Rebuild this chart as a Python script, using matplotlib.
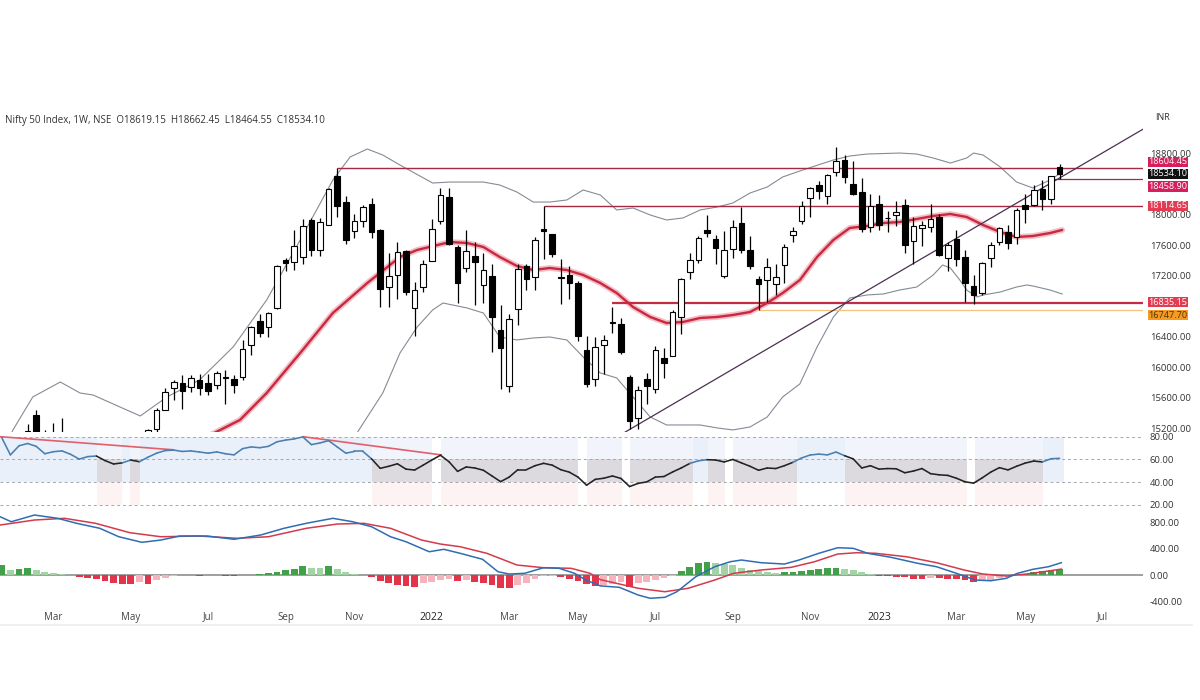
import numpy as np
import pandas as pd
import matplotlib
matplotlib.use('Agg')
import matplotlib.pyplot as plt
from matplotlib.lines import Line2D

plt.rcParams['font.family'] = ['Open Sans', 'DejaVu Sans']

# weekly bars, first bar = week of 2021-01-18
start_week = '2021-01-18'
opens = [14600, 14482, 13758, 15064, 15372, 15075, 14702, 15065, 15048, 14737,
         14628, 14837, 14644, 14516, 14449, 14481, 14928, 14756, 15191, 15437,
         15725, 15791, 15746, 15837, 15794, 15766, 15877, 15840, 15874, 16288,
         16600, 16528, 16775, 17401, 17380, 17443, 17932, 17531, 17867, 18500,
         18168, 17783, 17917, 18140, 17796, 17051, 17209, 17528, 16773, 17046,
         17388, 17913, 18235, 17575, 17301, 17456, 17076, 17192, 16481, 15747,
         16757, 17329, 17181, 17809, 17740, 17183, 17202, 17096, 16227, 15845,
         16290, 16578, 16570, 15877, 15334, 15839, 15710, 16126, 16151, 16662,
         17243, 17402, 17797, 17682, 17188, 17546, 17890, 17541, 17156, 17147,
         17094, 17335, 17737, 17910, 18211, 18386, 18246, 18552, 18719, 18402,
         18288, 17831, 18131, 17952, 17999, 18124, 17649, 17818, 17840, 17965,
         17428, 17680, 17443, 17066, 16977, 17427, 17634, 17767, 17707, 18124,
         18120, 18339, 18201, 18619.15]
highs = [14754, 14491, 15014, 15257, 15432, 15177, 15274, 15336, 15111, 14879,
         14984, 14880, 14697, 14527, 14890, 14756, 14967, 15190, 15469, 15733,
         15835, 15901, 15903, 15915, 15916, 15952, 15962, 15901, 16349, 16543,
         16702, 16722, 17340, 17436, 17793, 17947, 17948, 17948, 18350, 18604.45,
         18242, 18012, 18124, 18210, 17806, 17490, 17639, 17533, 17118, 17400,
         17944, 18350, 18351, 17599, 17794, 17640, 17490, 17351, 16815, 16694,
         17345, 17353, 17703, 18114.65, 17747, 17414, 17322, 17132, 16404, 16400,
         16415, 16794, 16641, 15900, 15750, 15927, 16275, 16248, 16752, 17172,
         17490, 17719, 17992, 17726, 17777, 17925, 18096, 17723, 17188, 17428,
         17348, 17607, 17838, 18175, 18362, 18443, 18529, 18888, 18781, 18697,
         18473, 18265, 18252, 18049, 18183, 18201, 17972, 17917, 18134, 18004,
         17644, 17799, 17529, 17207, 17381, 17639, 17842, 17863, 18089, 18267,
         18389, 18458, 18500, 18662.45]
lows = [14222, 13596, 13661, 14977, 14935, 14467, 14640, 14862, 14350, 14264,
        14617, 14459, 14151, 14273, 14416, 14417, 14591, 14722, 15100, 15437,
        15566, 15450, 15673, 15635, 15632, 15707, 15513, 15661, 15834, 16162,
        16395, 16395, 16764, 17255, 17270, 17354, 17452, 17453, 17864, 17968,
        17613, 17697, 17836, 17688, 16783, 16782, 16891, 16950, 16410, 16988,
        17384, 17880, 17599, 16836, 17244, 16810, 16839, 16203, 15711, 15671,
        16556, 17006, 17005, 17422, 17443, 16825, 16888, 16341, 15735, 15750,
        15904, 16444, 16172, 15183, 15191, 15511, 15661, 15858, 16143, 16438,
        17154, 17359, 17710, 17345, 17167, 17429, 17497, 17292, 16747.70, 16856,
        16950, 17098, 17638, 17877, 17969, 18209, 18133, 18503, 18410, 18255,
        17774, 17775, 17796, 17775, 17853, 17493, 17353, 17584, 17765, 17455,
        17255, 17325, 16850, 16828, 16941, 17313, 17598, 17553, 17612, 17885,
        18116, 18060, 18132, 18464.55]
closes = [14372, 13635, 14924, 15163, 14982, 14529, 15031, 15031, 14744, 14507,
          14867, 14835, 14617, 14341, 14631, 14823, 14677, 15175, 15435, 15670,
          15799, 15683, 15860, 15722, 15690, 15924, 15856, 15763, 16238, 16529,
          16450, 16705, 17324, 17369, 17585, 17853, 17532, 17895, 18339, 18114,
          17672, 17917, 18102, 17765, 17026, 17197, 17512, 16985, 17004, 17354,
          17812, 18256, 17617, 17102, 17516, 17375, 17276, 16658, 16245, 16630,
          17287, 17153, 17670, 17784, 17476, 17172, 17102, 16411, 15782, 16266,
          16352, 16584, 16202, 15294, 15699, 15752, 16220, 16049, 16719, 17158,
          17397, 17698, 17758, 17559, 17539, 17833, 17531, 17327, 17094, 17315,
          17186, 17576, 17787, 18117, 18350, 18308, 18512, 18696, 18497, 18269,
          17806, 18105, 17859, 17956, 18028, 17604, 17854, 17856, 17944, 17465,
          17594, 17413, 17100, 16945, 17360, 17599, 17828, 17624, 18065, 18069,
          18315, 18203, 18499, 18534.10]

# Bollinger bands / 20 SMA (bar index, price)
bbu_k = [0.4, 1.3, 3.6, 6.8, 9.1, 10.6, 16.1, 19.2, 23.0, 26.9, 30.8, 34.7, 38.5, 40.5, 42.5,
         44.3, 46.3, 50.1, 52.1, 56.0, 57.9, 59.9, 61.8, 63.7, 65.7, 67.6, 69.6, 71.5, 73.4,
         75.4, 77.3, 79.2, 81.2, 83.2, 85.0, 87.0, 89.0, 90.8, 92.8, 96.7, 98.6, 100.6, 104.4,
         106.4, 108.3, 110.3, 112.2, 113.0, 114.1, 116.1, 118.0, 119.9, 121.9, 123.3]
bbu_p = [14950, 15177, 15609, 15805, 15661, 15635, 15360, 15609, 15832, 16264, 16880, 17666, 18452,
         18753, 18858, 18779, 18648, 18412, 18425, 18425, 18386, 18294, 18163, 18163, 18190,
         18321, 18255, 18059, 18085, 17993, 17928, 17954, 18059, 18098, 18150, 18281, 18360,
         18491, 18570, 18714, 18766, 18792, 18805, 18792, 18740, 18674, 18740, 18805, 18779,
         18622, 18425, 18347, 18452, 18556]
bbl_k = [41.2, 44.3, 46.3, 48.3, 50.1, 51.3, 54.1, 56.0, 57.9, 59.9, 61.8, 63.7, 65.7, 67.6,
         69.6, 71.5, 73.4, 75.4, 77.3, 79.2, 81.2, 83.2, 85.0, 87.0, 89.0, 90.8, 92.8, 94.8,
         96.7, 98.6, 100.6, 102.5, 104.4, 106.4, 108.3, 109.4, 110.3, 111.4, 112.2, 113.4,
         114.1, 116.1, 118.0, 119.2, 119.9, 121.9, 123.3]
bbl_p = [15120, 15661, 16185, 16526, 16749, 16840, 16775, 16709, 16395, 16356, 16382, 16395,
         16356, 16133, 15923, 15858, 15609, 15347, 15242, 15242, 15242, 15203, 15177, 15216,
         15347, 15609, 15780, 16264, 16657, 16906, 16945, 16958, 17010, 17050, 17207, 17338,
         17299, 17141, 17010, 16919, 16945, 16984, 17050, 17076, 17063, 17010, 16958]
sma_k = [24.4, 27.7, 30.8, 34.7, 38.5, 42.5, 46.3, 48.3, 52.1, 54.1, 56.0, 57.9, 59.9, 61.8,
         63.7, 65.7, 67.6, 69.6, 71.5, 73.4, 75.4, 77.3, 79.2, 81.2, 83.2, 85.0, 87.0, 89.0,
         90.8, 92.8, 94.8, 96.7, 98.6, 100.6, 102.5, 104.4, 106.4, 108.3, 110.3, 112.2, 114.1,
         116.1, 118.0, 119.9, 121.9, 123.3]
sma_p = [15120, 15308, 15661, 16185, 16709, 17102, 17443, 17535, 17639, 17626, 17574, 17443,
         17325, 17272, 17299, 17272, 17207, 17102, 16971, 16788, 16657, 16578, 16591, 16644,
         16657, 16683, 16722, 16840, 16971, 17141, 17443, 17666, 17823, 17849, 17888, 17901,
         17941, 17980, 18006, 17967, 17862, 17770, 17705, 17718, 17757, 17797]

# drawn levels: value, first bar
level_vals = [18604.45, 18458.90, 18114.65, 16835.15, 16747.70]
level_from = [39, 122, 63, 71, 88]
trend_k = [73, 123]
trend_p = [15183, 18478]

# RSI (one value per week)
rsi = [79, 64, 72, 74, 71.5, 65, 66.8, 67.5, 64.5, 60.3,
       62.5, 63, 59, 56, 57, 59.5, 58, 62, 65.5, 67.8,
       68.2, 67, 67.5, 66.5, 65.5, 66.6, 65, 64, 69.5, 71,
       70.3, 71.5, 75.5, 77, 78, 79.8, 73, 74.5, 76.5, 71,
       65.5, 67, 67, 60.5, 52.2, 54, 56.2, 51.5, 50.7, 55,
       59.5, 63.7, 58, 49.5, 53.4, 52.5, 50.5, 45.5, 40.5, 44.5,
       51, 51, 54.5, 56.6, 55, 51, 48.8, 44.5, 37.4, 42.5,
       43.5, 45.5, 43.3, 36.2, 39, 40.3, 44.5, 45, 49, 52.5,
       56.5, 58.8, 59.8, 59.5, 57.8, 60, 57, 54, 50.5, 52.5,
       52, 54.5, 57.5, 61.3, 63.9, 64.7, 64, 66.5, 63.3, 60.5,
       52.5, 54.5, 51.5, 52, 51.8, 48.3, 49.8, 52, 47.5, 46.5,
       46, 43.5, 40.4, 39.2, 43.8, 48.9, 52.8, 50.8, 54, 56.8,
       58.6, 57.8, 60.6, 61]
rsi_div_k = [[-0.2, 19.9], [35.0, 51.1]]
rsi_div_v = [[80, 68.5], [80, 64]]
blue_zones = [(-0.5, 11.07), (13.98, 14.9), (16.07, 43.0), (80.4, 82.1), (92.5, 98.0), (121.1, 123.5)]
gray_zones = [(11.07, 13.98), (14.9, 16.07), (43.0, 50.0), (51.1, 67.0), (68.0, 72.1), (73.0, 80.4),
              (82.1, 84.1), (85.0, 92.5), (98.0, 112.2), (113.2, 121.1)]

# MACD
macd_k = [-0.2, 1.1, 3.8, 6.5, 8.7, 11.4, 13.6, 16.3, 18.5, 20.7, 23.9, 27.0, 30.1, 32.8, 35.4,
          38.5, 40.8, 43.0, 45.2, 47.0, 49.7, 51.4, 53.3, 55.9, 57.7, 59.0, 60.8, 63.0, 64.8,
          66.6, 67.9, 69.6, 71.8, 74.0, 75.4, 77.1, 78.5, 80.7, 82.9, 84.7, 86.0, 88.3, 91.0,
          92.7, 95.0, 97.2, 99.0, 100.7, 103.4, 106.5, 108.7, 111.0, 113.2, 115.0, 116.8,
          118.1, 119.9, 121.7, 123.2]
macd_v = [886, 810, 912, 862, 786, 710, 582, 497, 532, 593, 593, 543, 608, 710, 786, 862, 810,
          734, 582, 506, 354, 391, 330, 239, 50, 15, 26, 111, 102, 26, -76, -165, -187, -304,
          -354, -339, -254, -26, 126, 202, 228, 187, 167, 228, 330, 415, 406, 330, 269, 178,
          126, 26, -76, -87, -50, 26, 87, 126, 187]
signal_k = [-0.2, 3.8, 7.3, 10.9, 14.9, 18.5, 22.9, 27.4, 31.0, 35.4, 39.0, 42.1, 45.2, 48.8,
            51.0, 53.3, 56.4, 59.9, 63.0, 66.2, 68.4, 69.6, 74.0, 77.1, 79.8, 82.9, 85.1, 88.3,
            91.8, 94.5, 97.2, 99.4, 101.6, 105.2, 108.7, 111.9, 114.1, 116.8, 119.5, 123.2]
signal_v = [760, 836, 862, 786, 643, 582, 593, 558, 582, 710, 775, 786, 710, 532, 471, 430, 330,
            152, 111, 102, 26, -70, -202, -254, -202, -76, 26, 76, 117, 202, 319, 339, 330, 278,
            187, 76, 15, -15, 20, 90]
hist = [150, 80, 90, 110, 80, 45, 30, 20, 5, -30,
        -45, -60, -90, -120, -137, -137, -100, -137, -70, -40,
        -15, -5, 5, -8, -5, 5, -10, -15, -5, 5,
        10, 26, 45, 70, 90, 130, 110, 100, 130, 95,
        50, 15, 0, -30, -85, -115, -145, -160, -180, -127,
        -100, -70, -60, -95, -70, -100, -127, -155, -190, -200,
        -150, -120, -60, -20, -15, -26, -55, -90, -137, -167,
        -150, -130, -110, -177, -127, -101, -76, -51, -20, 66,
        117, 178, 205, 190, 175, 150, 110, 80, 60, 40,
        35, 40, 50, 65, 80, 90, 100, 105, 90, 70,
        40, 10, -10, -20, -25, -30, -60, -60, -45, -45,
        -60, -60, -80, -100, -95, -70, -50, -30, -10, 20,
        40, 60, 75, 90]

price_ticks = [15200, 15600, 16000, 16400, 16800, 17200, 17600, 18000, 18400, 18800]
hidden_ticks = [16800, 18400]   # covered by the price tags on the right

# ---------------------------------------------------------------
W, H = 1200, 700
fig = plt.figure(figsize=(12, 7), dpi=100)
fig.patch.set_facecolor('white')


def px_axes(top, bottom, right=1143):
    return fig.add_axes([0, 1 - bottom / H, right / W, (bottom - top) / H])


ax = px_axes(128, 432)
ax_rsi = px_axes(432, 512)
ax_macd = px_axes(512, 606)

n = len(closes)
idx = np.arange(n)
xlim = (-0.21, 132.7)
for a in (ax, ax_rsi, ax_macd):
    for s in a.spines.values():
        s.set_visible(False)
    a.yaxis.tick_right()
    a.tick_params(axis='y', length=0, pad=5, labelsize=6.8, labelcolor='#333333')
    a.tick_params(axis='x', length=0, labelbottom=False)
    a.set_facecolor('white')

# ---- price panel
ax.set_ylim(15150, 19133)
ax.set_yticks(price_ticks)
ax.set_yticklabels(['' if v in hidden_ticks else f'{v:.2f}' for v in price_ticks])

ax.plot(bbu_k, bbu_p, color='#858b95', lw=0.8, zorder=2)
ax.plot(bbl_k, bbl_p, color='#858b95', lw=0.8, zorder=2)
ax.plot(sma_k, sma_p, color='#f0b0ba', lw=4.2, alpha=0.8, zorder=2, solid_capstyle='round')
ax.plot(sma_k, sma_p, color='#c9283f', lw=1.7, zorder=2.1, solid_capstyle='round')

lvl_color = ['#a22a42', '#a22a42', '#a22a42', '#c22d45', '#f3c27c']
lvl_width = [1.0, 0.9, 1.0, 1.6, 0.9]
for v, s, c, w in zip(level_vals, level_from, lvl_color, lvl_width):
    ax.hlines(v, s, xlim[1], color=c, lw=w, zorder=2.2)

ax.axline((trend_k[0], trend_p[0]), (trend_k[1], trend_p[1]), color='#4b3050', lw=0.9, zorder=2.3)

o = np.array(opens); c = np.array(closes)
up = c >= o
ax.vlines(idx, lows, highs, color='black', lw=0.9, zorder=3)
ax.bar(idx, np.maximum(np.abs(c - o), 8), bottom=np.minimum(o, c), width=0.66,
       color=np.where(up, 'white', 'black'), edgecolor='black', linewidth=0.8, zorder=4)


def tag(price, text, face, dy=0, tc='white'):
    ax.annotate(text, xy=(1, price), xycoords=('axes fraction', 'data'),
                xytext=(4.0, dy * 0.72), textcoords='offset points', ha='left', va='center',
                fontsize=6.6, color=tc, annotation_clip=False, zorder=10,
                bbox=dict(boxstyle='square,pad=0.06', fc=face, ec='none'))


tag(level_vals[0], f'{level_vals[0]:.2f}', '#d5205c', dy=6.5)
tag(closes[-1], f'{closes[-1]:.2f}', '#111111')
tag(level_vals[1], f'{level_vals[1]:.2f}', '#d5205c', dy=-7)
tag(level_vals[2], f'{level_vals[2]:.2f}', '#e23c52')
tag(level_vals[3], f'{level_vals[3]:.2f}', '#e23c52', dy=1)
tag(level_vals[4], f'{level_vals[4]:.2f}', '#f59a1e', dy=-5, tc='#4a3010')

# ---- RSI panel
ax_rsi.set_ylim(13.85, 84.1)
ax_rsi.set_yticks([20, 40, 60, 80])
ax_rsi.set_yticklabels(['20.00', '40.00', '60.00', '80.00'])
for a0, b0 in blue_zones:
    ax_rsi.fill_between([a0, b0], 40, 80, color='#e9f0fa', lw=0, zorder=0)
for a0, b0 in gray_zones:
    ax_rsi.fill_between([a0, b0], 40, 60, color='#dcd9df', lw=0, zorder=0)
    ax_rsi.fill_between([a0, b0], 60, 80, color='#f1f4fa', lw=0, zorder=0)
    ax_rsi.fill_between([a0, b0], 20, 40, color='#fdf3f3', lw=0, zorder=0)
for lv in (80, 60, 40, 20):
    ax_rsi.axhline(lv, color='#a3a7ad', lw=0.7, dashes=(3, 3), zorder=1)
for kk, vv in zip(rsi_div_k, rsi_div_v):
    ax_rsi.plot(kk, vv, color='#e0606c', lw=1.2, zorder=2)
for i in range(n - 1):
    m = i + 0.5
    col = '#4a7fb0' if any(a0 <= m < b0 for a0, b0 in blue_zones) else '#222222'
    ax_rsi.plot([i, i + 1], [rsi[i], rsi[i + 1]], color=col, lw=1.15, zorder=3,
                solid_capstyle='round')

# ---- MACD panel
ax_macd.set_ylim(-471, 958)
ax_macd.set_yticks([-400, 0, 400, 800])
ax_macd.set_yticklabels(['-400.00', '0.00', '400.00', '800.00'])
ax_macd.axhline(0, color='#8f8f8f', lw=1.2, zorder=1)
hcol = []
for i, h in enumerate(hist):
    prev = hist[i - 1] if i > 0 else h
    if h >= 0:
        hcol.append('#43a04a' if h >= prev else '#a3d4a6')
    else:
        hcol.append('#e3344b' if h <= prev else '#f6b3bb')
ax_macd.bar(idx, hist, width=0.8, color=hcol, zorder=2)
ax_macd.plot(signal_k, signal_v, color='#d33a4c', lw=1.1, zorder=3)
ax_macd.plot(macd_k, macd_v, color='#2f6db3', lw=1.1, zorder=4)

# month labels (first bar of every odd month, year at January)
all_weeks = pd.date_range(start_week, periods=140, freq='W-MON')
tpos, tlab = [], []
for i in range(1, len(all_weeks)):
    d, p = all_weeks[i], all_weeks[i - 1]
    if d.month != p.month and d.month % 2 == 1 and i < xlim[1] - 2:
        tpos.append(i)
        tlab.append(str(d.year) if d.month == 1 else d.strftime('%b'))
ax_macd.set_xticks(tpos)
ax_macd.set_xticklabels(tlab)
ax_macd.tick_params(axis='x', labelbottom=True, labelsize=7, labelcolor='#444444', pad=4)
for t in ax_macd.get_xticklabels():
    if t.get_text().isdigit():
        t.set_color('#222222')
        t.set_fontsize(7.5)

for a in (ax, ax_rsi, ax_macd):
    a.set_xlim(*xlim)

# header & frame
fig.text(5 / W, 1 - 120 / H,
         f'Nifty 50 Index, 1W, NSE  O{opens[-1]:.2f}  H{highs[-1]:.2f}  L{lows[-1]:.2f}  C{closes[-1]:.2f}',
         fontsize=7, color='#333333', va='center', ha='left')
fig.text(1155 / W, 1 - 118 / H, 'INR', fontsize=6.5, color='#333333', va='center', ha='left')
fig.add_artist(Line2D([0, 1192 / W], [1 - 625 / H] * 2, color='#ececec', lw=1.2))

fig.savefig('out.png', dpi=100, facecolor='white')
